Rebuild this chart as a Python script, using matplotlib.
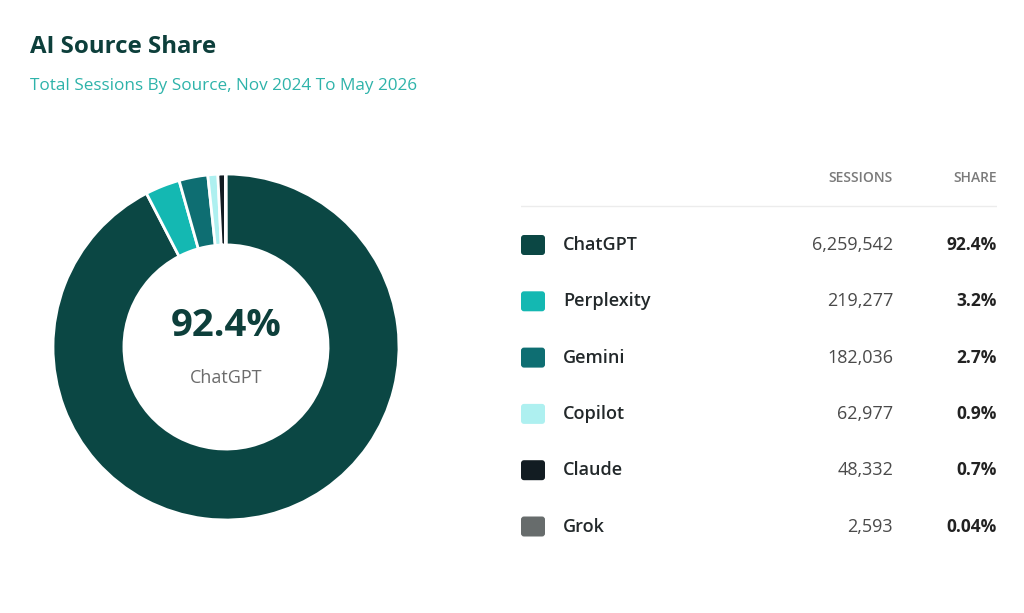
import matplotlib.pyplot as plt
from matplotlib.patches import FancyBboxPatch

plt.rcParams['font.family'] = ['Open Sans', 'DejaVu Sans']

# dane
sources = ['ChatGPT', 'Perplexity', 'Gemini', 'Copilot', 'Claude', 'Grok']
sessions = [6259542, 219277, 182036, 62977, 48332, 2593]
share_labels = ['92.4%', '3.2%', '2.7%', '0.9%', '0.7%', '0.04%']
colors = ['#0b4744', '#14b8b2', '#0e6e72', '#aef0f0', '#121c22', '#676c6c']

fig = plt.figure(figsize=(10.24, 6.13), dpi=100)
fig.patch.set_facecolor('white')

# tytul
fig.text(30 / 1024, 1 - 47 / 613, 'AI Source Share', fontsize=17.3, fontweight='bold',
         color='#0d3f3b', va='center', ha='left')
fig.text(30 / 1024, 1 - 86 / 613, 'Total Sessions By Source, Nov 2024 To May 2026',
         fontsize=12.3, color='#2eb3aa', va='center', ha='left')

# donut
ax = fig.add_axes([53 / 1024, 93 / 613, 346 / 1024, 346 / 613])
ax.pie(sessions, colors=colors, startangle=90, counterclock=False, radius=1,
       wedgeprops=dict(width=0.41, edgecolor='white', linewidth=2))
ax.set_xlim(-1, 1)
ax.set_ylim(-1, 1)
ax.set_aspect('equal')
ax.axis('off')
ax.text(0, 0.12, share_labels[0], ha='center', va='center', fontsize=27.5,
        fontweight='bold', color='#0d3f3b')
ax.text(0, -0.18, sources[0], ha='center', va='center', fontsize=13, color='#6b6b6b')

# tabela
tax = fig.add_axes([521 / 1024, 68 / 613, 476 / 1024, 385 / 613])
row_h = 56.3
tax.set_xlim(0, 476)
tax.set_ylim((545 - 245) / row_h, (160 - 245) / row_h)
tax.axis('off')

hdr_y = (178 - 245) / row_h
tax.text(372, hdr_y, 'SESSIONS', ha='right', va='center', fontsize=10,
         fontweight='semibold', color='#7a7a7a')
tax.text(476, hdr_y, 'SHARE', ha='right', va='center', fontsize=10,
         fontweight='semibold', color='#7a7a7a')
line_y = (206 - 245) / row_h
tax.plot([0, 476], [line_y, line_y], color='#ececec', linewidth=1)

sq_h = 20 / row_h
for i, (name, val, sh, c) in enumerate(zip(sources, sessions, share_labels, colors)):
    box = FancyBboxPatch((0, i - sq_h / 2), 24, sq_h,
                         boxstyle='round,pad=0,rounding_size=3',
                         mutation_aspect=1 / row_h, facecolor=c, edgecolor='none')
    tax.add_patch(box)
    tax.text(42, i, name, ha='left', va='center', fontsize=13, fontweight='semibold',
             color='#22282a')
    tax.text(372, i, f'{val:,}', ha='right', va='center', fontsize=13, color='#4a4a4a')
    tax.text(476, i, sh, ha='right', va='center', fontsize=12.5, fontweight='bold',
             color='#222222')

fig.savefig('out.png', dpi=100, facecolor='white')
